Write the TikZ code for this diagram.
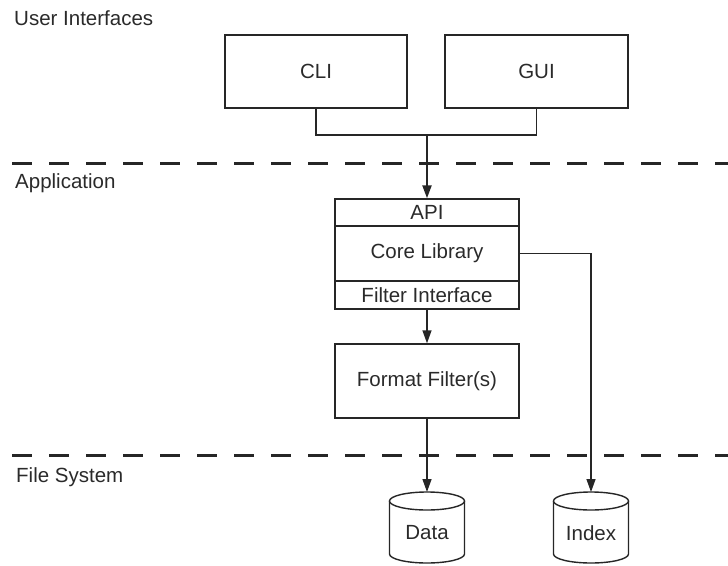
\documentclass[tikz,border=0pt]{standalone}
\usepackage{fontspec}
\setmainfont{Liberation Sans}
\usetikzlibrary{arrows.meta}
\definecolor{ink}{HTML}{262626}
\definecolor{txt}{HTML}{2A2A2A}
\begin{document}
\begin{tikzpicture}[x=1pt,y=-1pt,
  every node/.style={font=\fontsize{20.5}{24}\selectfont, text=txt},
  box/.style={draw=ink, line width=1.4pt, inner sep=0pt, minimum width=184pt},
  link/.style={draw=ink, line width=1.4pt},
  arrowlink/.style={link, -{Triangle[length=13pt,width=9pt]}},
  layerline/.style={draw=black!85, line width=3pt, dash pattern=on 20pt off 17pt},
  layerlabel/.style={anchor=base west, inner sep=0pt},
  dbwall/.style={draw=ink, line width=1.4pt, fill=white}]
\useasboundingbox (0,0) rectangle (728,565);

% layer separators
\draw[layerline] (12,163) -- (728,163);
\draw[layerline] (12,455) -- (728,455);

% layer labels
\node[layerlabel] (lui) at (14,25) {User Interfaces};
\node[layerlabel] (lapp) at (15,188) {Application};
\node[layerlabel] (lfs) at (16,482) {File System};

% user interfaces
\node[box, minimum width=182pt, minimum height=73pt] (cli) at (316,71.5) {CLI};
\node[box, minimum width=183pt, minimum height=73pt] (gui) at (536.5,71.5) {GUI};

% application stack
\node[box, minimum height=27pt] (api) at (427,212.5) {API};
\node[box, minimum height=55pt] (core) at (427,253.5) {Core Library};
\node[box, minimum height=28pt] (filt) at (427,295) {Filter Interface};
\node[box, minimum height=74pt] (ff) at (427,381) {Format Filter(s)};

% storage cylinders
\foreach \cx/\nm/\lbl in {427/data/Data, 591/index/Index}{
  \draw[dbwall] (\cx-37.5,501) -- (\cx-37.5,554)
     arc[start angle=180, end angle=360, x radius=37.5pt, y radius=9pt]
     -- (\cx+37.5,501);
  \draw[dbwall] (\cx,501) ellipse [x radius=37.5pt, y radius=9pt];
  \coordinate (\nm top) at (\cx,492);
  \node (\nm) at (\cx,533) {\lbl};
}

% connectors
\coordinate (join) at (427,135);
\draw[link] (cli.south) |- (join) -| (gui.south);
\draw[arrowlink, line width=2.2pt] (join) -- (api.north);
\draw[arrowlink] (filt.south) -- (ff.north);
\draw[arrowlink] (ff.south) -- (datatop);
\draw[arrowlink] (core.east) -| (indextop);
\end{tikzpicture}
\end{document}
